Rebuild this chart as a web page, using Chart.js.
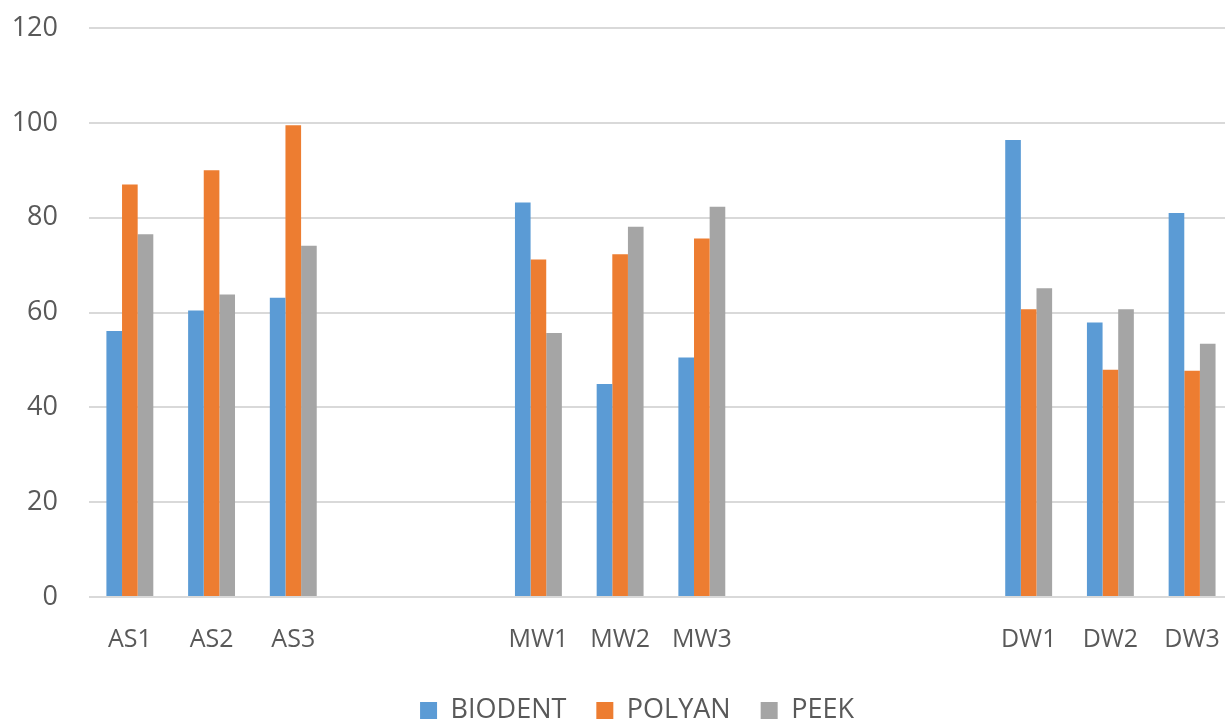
<!DOCTYPE html>
<html>
<head>
<meta charset="utf-8">
<script src="https://cdn.jsdelivr.net/npm/chart.js@4"></script>
<style>
  html, body { margin: 0; padding: 0; background: #fff; overflow: hidden; }
  #wrap { width: 1240px; height: 734px; }
</style>
</head>
<body>
<div id="wrap"><canvas id="chart" width="1240" height="734"></canvas></div>
<script>
// categories (blank slots keep the gaps between groups)
const categories = ['AS1', 'AS2', 'AS3', '', '', 'MW1', 'MW2', 'MW3', '', '', '', 'DW1', 'DW2', 'DW3'];

// series values
const biodent = [56.1, 60.4, 63.1, null, null, 83.2, 44.9, 50.5, null, null, null, 96.4, 57.9, 81.0];
const polyan  = [87.0, 90.0, 99.5, null, null, 71.2, 72.3, 75.6, null, null, null, 60.7, 47.9, 47.7];
const peek    = [76.5, 63.8, 74.1, null, null, 55.7, 78.1, 82.3, null, null, null, 65.1, 60.7, 53.4];

const yTicks = [0, 20, 40, 60, 80, 100, 120];

const textColor = '#595959';
const fontFamily = '"Open Sans", sans-serif';

// nudge the legend a bit to the right, like the original
const legendShift = {
  id: 'legendShift',
  afterLayout(chart) {
    chart.legend.left += 19;
    chart.legend.right += 19;
  },
};

const ctx = document.getElementById('chart').getContext('2d');
new Chart(ctx, {
  type: 'bar',
  data: {
    labels: categories,
    datasets: [
      { label: 'BIODENT', data: biodent, backgroundColor: '#5B9BD5' },
      { label: 'POLYAN', data: polyan, backgroundColor: '#ED7D31' },
      { label: 'PEEK', data: peek, backgroundColor: '#A5A5A5' },
    ],
  },
  plugins: [legendShift],
  options: {
    responsive: false,
    animation: false,
    layout: { padding: { left: 0, right: 4, top: 28, bottom: 0 } },
    datasets: {
      bar: { categoryPercentage: 0.574, barPercentage: 1.0 },
    },
    plugins: {
      tooltip: { enabled: false },
      legend: {
        position: 'bottom',
        labels: {
          color: textColor,
          font: { family: fontFamily, size: 27 },
          boxWidth: 17,
          boxHeight: 17,
          padding: 30,
        },
      },
    },
    scales: {
      x: {
        afterFit: (scale) => { scale.height -= 8; },
        grid: { display: false },
        border: { display: false },
        ticks: {
          color: textColor,
          font: { family: fontFamily, size: 25 },
          padding: 20,
          maxRotation: 0,
          autoSkip: false,
        },
      },
      y: {
        min: 0,
        max: 120,
        afterFit: (scale) => { scale.width = 89; },
        afterBuildTicks: (scale) => { scale.ticks = yTicks.map((v) => ({ value: v })); },
        grid: { color: '#D9D9D9', lineWidth: 2, drawTicks: true, tickLength: 31, tickColor: 'rgba(0,0,0,0)' },
        border: { display: false },
        ticks: {
          color: textColor,
          font: { family: fontFamily, size: 27 },
          padding: 0,
        },
      },
    },
  },
});
</script>
</body>
</html>
